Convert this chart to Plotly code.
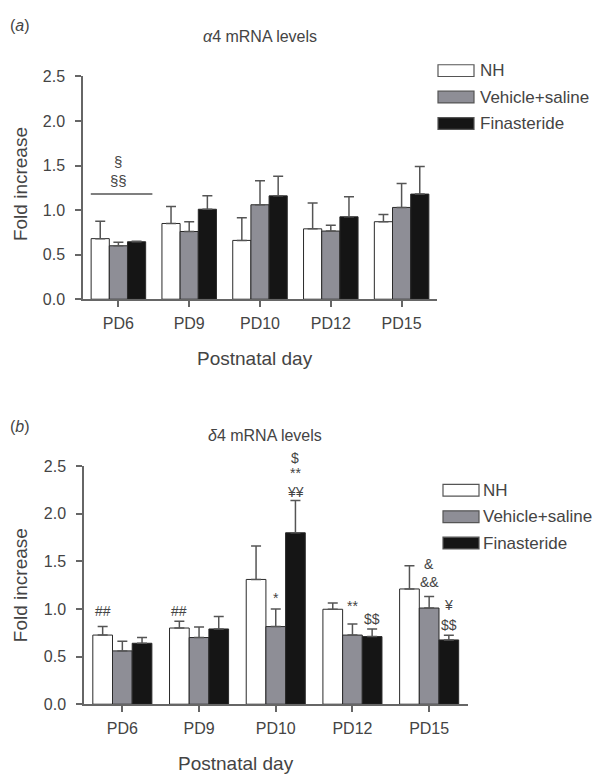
import plotly.graph_objects as go

W, H = 600, 781
FONT = "Liberation Sans, Arial, sans-serif"
TXT = "#444444"

days = ["PD6", "PD9", "PD10", "PD12", "PD15"]
groups = ["NH", "Vehicle+saline", "Finasteride"]
colors = ["#ffffff", "#8e8e96", "#151515"]

# Panel (a): alpha4 mRNA levels
a_nh = [0.68, 0.85, 0.66, 0.79, 0.87]
a_nh_err = [0.195, 0.19, 0.255, 0.29, 0.08]
a_veh = [0.60, 0.76, 1.06, 0.765, 1.03]
a_veh_err = [0.04, 0.11, 0.27, 0.065, 0.27]
a_fin = [0.645, 1.01, 1.16, 0.925, 1.18]
a_fin_err = [0.005, 0.15, 0.22, 0.225, 0.31]

# Panel (b): delta4 mRNA levels
b_nh = [0.726, 0.80, 1.31, 0.997, 1.21]
b_nh_err = [0.09, 0.07, 0.35, 0.065, 0.245]
b_veh = [0.56, 0.70, 0.815, 0.726, 1.01]
b_veh_err = [0.10, 0.11, 0.185, 0.115, 0.12]
b_fin = [0.64, 0.79, 1.80, 0.71, 0.675]
b_fin_err = [0.06, 0.13, 0.34, 0.08, 0.05]

y_ticks = [0.0, 0.5, 1.0, 1.5, 2.0, 2.5]

# significance marks: (day index, group index, y, text, extra pixel shift)
a_marks = [(0, 1, 1.55, "§", 0), (0, 1, 1.33, "§§", 0)]
a_sig_line = (-0.39, 0.48, 1.18)
b_marks = [
    (0, 0, 0.975, "##", 0), (1, 0, 0.975, "##", 0), (2, 1, 1.11, "*", 0),
    (2, 2, 2.43, "&#36;", 15), (2, 2, 2.43, "**", 0), (2, 2, 2.23, "¥¥", 0),
    (3, 1, 1.03, "**", 0), (3, 2, 0.89, "&#36;&#36;", 0),
    (4, 1, 1.47, "&amp;", 0), (4, 1, 1.28, "&amp;&amp;", 0),
    (4, 2, 1.04, "¥", 0), (4, 2, 0.83, "&#36;&#36;", 0),
]

BARGAP = 0.23
bw = (1 - BARGAP) / 3
offs = [-bw, 0.0, bw]


def px(x):
    return x / W


def py(y):
    return 1 - y / H


fig = go.Figure()

panels = [
    ("x", "y", [a_nh, a_veh, a_fin], [a_nh_err, a_veh_err, a_fin_err]),
    ("x2", "y2", [b_nh, b_veh, b_fin], [b_nh_err, b_veh_err, b_fin_err]),
]
for xa, ya, vals, errs in panels:
    for i, g in enumerate(groups):
        fig.add_trace(go.Bar(
            x=days, y=vals[i], name=g, xaxis=xa, yaxis=ya,
            marker=dict(color=colors[i], line=dict(color="#2a2a2a", width=1)),
            error_y=dict(type="data", array=errs[i], arrayminus=[0] * len(days),
                         symmetric=False, color="#555555", thickness=1.5, width=5),
            showlegend=False, hoverinfo="skip",
        ))

axis_common = dict(showline=True, linecolor="#666666", linewidth=1.5,
                   ticks="outside", ticklen=6, tickwidth=1.5, tickcolor="#666666",
                   showgrid=False, zeroline=False,
                   tickfont=dict(family=FONT, size=16, color=TXT))

fig.update_layout(
    width=W, height=H, autosize=False,
    margin=dict(l=0, r=0, t=0, b=0),
    paper_bgcolor="white", plot_bgcolor="white",
    barmode="group", bargap=BARGAP, bargroupgap=0,
    xaxis=dict(domain=[px(83), px(437)], anchor="y", range=[-0.5, 4.5],
               ticklabelstandoff=3, **axis_common),
    yaxis=dict(domain=[py(297.7), py(70)], anchor="x", range=[0, 2.5],
               tickvals=y_ticks, tickformat=".1f", ticklabelstandoff=7, **axis_common),
    xaxis2=dict(domain=[px(84), px(467.5)], anchor="y2", range=[-0.5, 4.5],
                ticklabelstandoff=3, **axis_common),
    yaxis2=dict(domain=[py(711.7), py(468.3)], anchor="x2", range=[0, 2.5],
                tickvals=y_ticks, tickformat=".1f", ticklabelstandoff=7, **axis_common),
)

ann = []
shapes = []


def text(x, y, t, size, xanchor="center", angle=0):
    ann.append(dict(x=px(x), y=py(y), xref="paper", yref="paper", text=t,
                    showarrow=False, xanchor=xanchor, yanchor="middle", textangle=angle,
                    borderpad=0, font=dict(family=FONT, size=size, color=TXT)))


# panel labels and titles
text(9, 18, "(<i>a</i>)", 16, "left")
text(9, 428, "(<i>b</i>)", 16, "left")
text(260, 29, "<i>α</i>4 mRNA levels", 16)
text(265, 437, "<i>δ</i>4 mRNA levels", 16)
# axis titles
text(20, 180, "Fold increase", 19, angle=-90)
text(20, 590, "Fold increase", 19, angle=-90)
text(255, 358, "Postnatal day", 19)
text(236, 772, "Postnatal day", 19)

# legends
for (bx, by0, tx) in [(438, 64, 479), (443, 493, 482)]:
    for i, g in enumerate(groups):
        yy = by0 + i * 27
        shapes.append(dict(type="rect", xref="paper", yref="paper",
                           x0=px(bx), x1=px(bx + 36), y0=py(yy - 6), y1=py(yy + 6),
                           fillcolor=colors[i], line=dict(color="#555555", width=1.2)))
        text(tx, yy, g, 17, "left")

# significance marks
for (d, g, y, t, sh) in a_marks:
    ann.append(dict(x=d, y=y, xref="x", yref="y", text=t, showarrow=False, yshift=sh,
                    font=dict(family=FONT, size=15, color=TXT)))
shapes.append(dict(type="line", xref="x", yref="y", x0=a_sig_line[0], x1=a_sig_line[1],
                   y0=a_sig_line[2], y1=a_sig_line[2], line=dict(color="#555555", width=1.5)))
for (d, g, y, t, sh) in b_marks:
    ann.append(dict(x=d + offs[g], y=y, xref="x2", yref="y2", text=t, showarrow=False,
                    yshift=sh, font=dict(family=FONT, size=14, color=TXT)))

fig.update_layout(annotations=ann, shapes=shapes)
fig.write_html("out.html", config={"displayModeBar": False},
               post_script="document.body.style.margin='0';")
